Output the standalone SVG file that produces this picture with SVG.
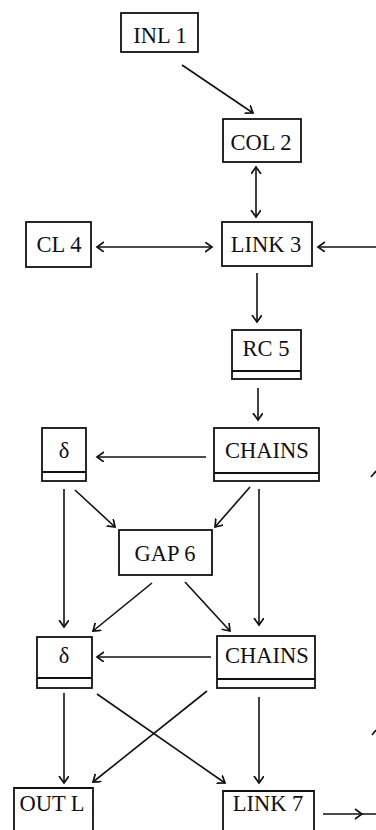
<svg xmlns="http://www.w3.org/2000/svg" width="376" height="830" viewBox="0 0 376 830">
<style>
.box{fill:none;stroke:#111;stroke-width:1.8}
.sep{stroke:#111;stroke-width:1.8}
.lbl{font-family:"Liberation Serif","Times New Roman",serif;font-size:22.5px;fill:#111;text-anchor:middle}
.c{fill:none;stroke:#111;stroke-width:1.6}
.a{marker-end:url(#ah)}
.d{marker-start:url(#ah);marker-end:url(#ah)}
</style>
<defs>
<marker id="ah" markerUnits="userSpaceOnUse" markerWidth="10" markerHeight="12" refX="7" refY="5" orient="auto-start-reverse">
<path d="M0,0 L7,5 L0,10" fill="none" stroke="#111" stroke-width="1.7"/>
</marker>
</defs>
<rect width="376" height="830" fill="#fff"/>
<g id="connectors">
<line class="c a" x1="182" y1="65" x2="253" y2="113"/>
<line class="c d" x1="256" y1="167" x2="256" y2="217"/>
<line class="c d" x1="97" y1="247" x2="212" y2="247"/>
<line class="c a" x1="376" y1="247" x2="318" y2="247"/>
<line class="c a" x1="257" y1="273" x2="257" y2="322"/>
<line class="c a" x1="258" y1="388" x2="258" y2="420"/>
<line class="c a" x1="206" y1="457" x2="97" y2="457"/>
<line class="c a" x1="64" y1="489" x2="64" y2="627"/>
<line class="c a" x1="75" y1="490" x2="115" y2="527"/>
<line class="c a" x1="250" y1="487" x2="215" y2="527"/>
<line class="c a" x1="259" y1="489" x2="259" y2="625"/>
<line class="c a" x1="152" y1="583" x2="93" y2="631"/>
<line class="c a" x1="185" y1="582" x2="230" y2="631"/>
<line class="c a" x1="211" y1="657" x2="97" y2="657"/>
<line class="c a" x1="64" y1="693" x2="64" y2="783"/>
<line class="c a" x1="97" y1="694" x2="225" y2="783"/>
<line class="c a" x1="207" y1="691" x2="93" y2="782"/>
<line class="c a" x1="259" y1="697" x2="259" y2="783"/>
<line class="c" x1="323" y1="814" x2="376" y2="814"/>
<path class="c" d="M355,809 L362,814 L355,819"/>
<path class="c" d="M371,477 L376,471"/>
<path class="c" d="M372,735 L376,730"/>
</g>
<g id="inl1"><rect class="box" x="121" y="13" width="77" height="39"/><text class="lbl" x="160" y="43">INL 1</text></g>
<g id="col2"><rect class="box" x="223" y="119" width="78" height="43"/><text class="lbl" x="261" y="150">COL 2</text></g>
<g id="cl4"><rect class="box" x="26" y="222" width="65" height="45"/><text class="lbl" x="59" y="252">CL 4</text></g>
<g id="link3"><rect class="box" x="222" y="222" width="90" height="44"/><text class="lbl" x="266" y="252">LINK 3</text></g>
<g id="rc5"><rect class="box" x="232" y="330" width="69" height="49"/><line class="sep" x1="232" y1="371" x2="301" y2="371"/><text class="lbl" x="266" y="356">RC 5</text></g>
<g id="chains1"><rect class="box" x="214" y="428" width="105" height="53"/><line class="sep" x1="214" y1="473" x2="319" y2="473"/><text class="lbl" x="267" y="458">CHAINS</text></g>
<g id="delta1"><rect class="box" x="42" y="428" width="44" height="53"/><line class="sep" x1="42" y1="472" x2="86" y2="472"/><text class="lbl" x="64" y="458">δ</text></g>
<g id="gap6"><rect class="box" x="119" y="530" width="93" height="45"/><text class="lbl" x="165" y="561">GAP 6</text></g>
<g id="delta2"><rect class="box" x="37" y="637" width="55" height="51"/><line class="sep" x1="37" y1="678" x2="92" y2="678"/><text class="lbl" x="64" y="663">δ</text></g>
<g id="chains2"><rect class="box" x="217" y="636" width="98" height="52"/><line class="sep" x1="217" y1="679" x2="315" y2="679"/><text class="lbl" x="267" y="663">CHAINS</text></g>
<g id="outl"><path class="box" d="M14,832 L14,788 L93,788 L93,832"/><text class="lbl" x="52" y="811">OUT L</text></g>
<g id="link7"><path class="box" d="M223,832 L223,791 L314,791 L314,832"/><text class="lbl" x="268" y="811">LINK 7</text></g>
</svg>
